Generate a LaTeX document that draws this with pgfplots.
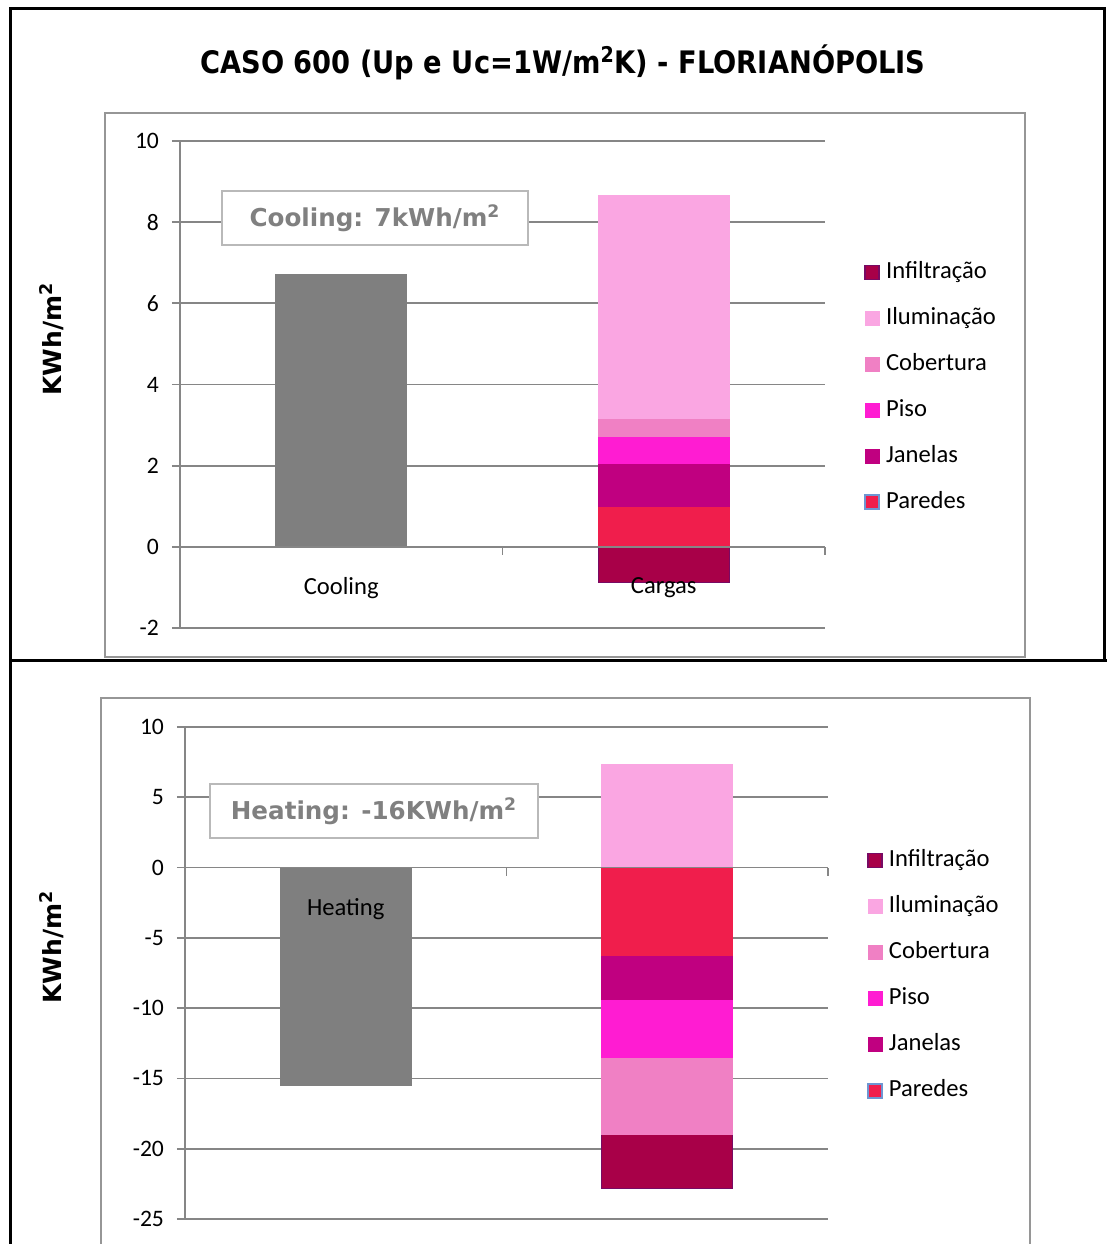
\documentclass[border=0pt]{standalone}
\usepackage{fontspec}
\setmainfont{Carlito}
\newfontfamily\vfont{DejaVu Sans}
\newfontfamily\tfont[FakeStretch=0.88]{DejaVu Sans}
\usepackage{pgfplots}
\pgfplotsset{compat=1.18}
\definecolor{cInf}{RGB}{168,0,72}
\definecolor{cInfB}{RGB}{120,10,100}
\definecolor{cIlu}{RGB}{250,166,226}
\definecolor{cCob}{RGB}{240,128,196}
\definecolor{cPis}{RGB}{255,28,210}
\definecolor{cJan}{RGB}{192,0,128}
\definecolor{cPar}{RGB}{240,30,76}
\definecolor{cParB}{RGB}{110,150,210}
\definecolor{cGray}{RGB}{127,127,127}
\definecolor{gridc}{RGB}{134,134,134}
\definecolor{framec}{RGB}{150,150,150}
\definecolor{boxc}{RGB}{185,185,185}
\definecolor{txtgray}{RGB}{128,128,128}
\newcommand{\sq}{\textsuperscript{2}}
\pgfplotsset{
  base/.style={scale only axis, anchor=south west, xmin=-0.5, xmax=1.5, enlargelimits=false},
  mainax/.style={base, axis x line=none, axis y line*=left, ytick align=outside,
    major tick length=4pt, ymajorgrids,
    major grid style={draw=gridc, line width=0.9pt},
    y axis line style={draw=gridc, line width=0.9pt},
    ytick style={draw=gridc, line width=0.9pt},
    yticklabel style={font=\fontsize{11.8}{12}\selectfont, xshift=-3pt},
    /pgf/number format/assume math mode=true,
    legend cell align=left,
    legend image code/.code={\draw[##1] (0pt,-3.5pt) rectangle (7pt,3.5pt);},
  },
  stackax/.style={base, ybar stacked, bar width=65.5pt, axis on top,
    axis x line*=middle, axis y line=none, ytick=\empty,
    xtick={0.5,1.5}, xticklabels={}, xtick align=outside, major tick length=4pt,
    x axis line style={draw=gridc, line width=0.9pt},
    xtick style={draw=gridc, line width=0.9pt},
  },
  lg/.style={legend style={at={(axis description cs:1.06,#1)}, anchor=north west, draw=none, fill=none,
    font=\fontsize{12.3}{14}\selectfont, inner sep=0pt, row sep=8pt,
    nodes={text height=9pt, text depth=3pt, inner sep=1.5pt},
    /tikz/every odd column/.append style={column sep=1.5pt}}},
  seg/.style={fill=#1, draw=#1, line width=0.3pt},
}
\begin{document}
\begin{tikzpicture}
\path[use as bounding box] (0,0) rectangle (553.5pt,-622pt);
\clip (0,0) rectangle (553.5pt,-622pt);
% outer frame
\draw[black, line width=1.5pt] (5pt,-700pt) -- (5pt,-4pt) -- (552pt,-4pt) -- (552pt,-330pt);
\draw[black, line width=1.5pt] (5pt,-330pt) -- (560pt,-330pt);
% inner chart frames
\draw[framec, line width=1pt] (52.5pt,-56.5pt) rectangle (512.5pt,-328.5pt);
\draw[framec, line width=1pt] (50.5pt,-349pt) rectangle (515pt,-700pt);
% title
\node[font=\tfont\bfseries\fontsize{15.5}{18}\selectfont] at (281.5pt,-31pt) {CASO 600 (Up e Uc=1W/m\sq K) - FLORIANÓPOLIS};

% ---------------- top chart ----------------
\begin{axis}[mainax, at={(90pt,-314pt)}, width=322.5pt, height=243.5pt,
  ymin=-2, ymax=10, ytick={-2,0,...,10}, lg=0.762]
  \addplot[ybar, bar width=65.5pt, bar shift=0pt, seg=cGray, forget plot] coordinates {(0,6.72)};
  \addplot[ybar, bar width=65.5pt, bar shift=0pt, fill=cInf, draw=cInfB, line width=0.7pt, forget plot] coordinates {(1,-0.88)};
  \addlegendimage{fill=cInf, draw=cInfB, line width=0.6pt}\addlegendentry{Infiltração}
  \addlegendimage{fill=cIlu, draw=cIlu}\addlegendentry{Iluminação}
  \addlegendimage{fill=cCob, draw=cCob}\addlegendentry{Cobertura}
  \addlegendimage{fill=cPis, draw=cPis}\addlegendentry{Piso}
  \addlegendimage{fill=cJan, draw=cJan}\addlegendentry{Janelas}
  \addlegendimage{fill=cPar, draw=cParB, line width=1pt}\addlegendentry{Paredes}
\end{axis}
\begin{axis}[stackax, at={(90pt,-314pt)}, width=322.5pt, height=243.5pt, ymin=-2, ymax=10]
  \addplot[seg=cPar] coordinates {(1,0.97)};
  \addplot[seg=cJan] coordinates {(1,1.07)};
  \addplot[seg=cPis] coordinates {(1,0.67)};
  \addplot[seg=cCob] coordinates {(1,0.43)};
  \addplot[seg=cIlu] coordinates {(1,5.53)};
  \node[font=\fontsize{12.3}{14}\selectfont] at (axis cs:0,0) [yshift=-20.5pt] {Cooling};
  \node[font=\fontsize{12.3}{14}\selectfont] at (axis cs:1,0) [yshift=-20.5pt] {Cargas};
\end{axis}
\node[draw=boxc, line width=1pt, fill=white, minimum width=153pt, minimum height=27pt,
  text=txtgray, font=\vfont\bfseries\fontsize{12.3}{14}\selectfont] at (187.5pt,-109pt) {Cooling: 7kWh/m\sq};
\node[rotate=90, font=\vfont\bfseries\fontsize{12.5}{14}\selectfont] at (26pt,-169.5pt) {KWh/m\sq};

% ---------------- bottom chart ----------------
\begin{axis}[mainax, at={(92.5pt,-609.5pt)}, width=321.5pt, height=246pt,
  ymin=-25, ymax=10, ytick={-25,-20,...,10}, lg=0.76]
  \addplot[ybar, bar width=65.5pt, bar shift=0pt, seg=cGray, forget plot] coordinates {(0,-15.48)};
  \addplot[ybar, bar width=65.5pt, bar shift=0pt, seg=cIlu, forget plot] coordinates {(1,7.37)};
  \addlegendimage{fill=cInf, draw=cInfB, line width=0.6pt}\addlegendentry{Infiltração}
  \addlegendimage{fill=cIlu, draw=cIlu}\addlegendentry{Iluminação}
  \addlegendimage{fill=cCob, draw=cCob}\addlegendentry{Cobertura}
  \addlegendimage{fill=cPis, draw=cPis}\addlegendentry{Piso}
  \addlegendimage{fill=cJan, draw=cJan}\addlegendentry{Janelas}
  \addlegendimage{fill=cPar, draw=cParB, line width=1pt}\addlegendentry{Paredes}
\end{axis}
\begin{axis}[stackax, at={(92.5pt,-609.5pt)}, width=321.5pt, height=246pt, ymin=-25, ymax=10]
  \addplot[seg=cPar] coordinates {(1,-6.25)};
  \addplot[seg=cJan] coordinates {(1,-3.13)};
  \addplot[seg=cPis] coordinates {(1,-4.09)};
  \addplot[seg=cCob] coordinates {(1,-5.49)};
  \addplot[fill=cInf, draw=cInfB, line width=0.7pt] coordinates {(1,-3.89)};
  \node[font=\fontsize{12.3}{14}\selectfont] at (axis cs:0,0) [yshift=-21pt] {Heating};
  \node[font=\fontsize{12.3}{14}\selectfont] at (axis cs:1,0) [yshift=-21pt] {Cargas};
\end{axis}
\node[draw=boxc, line width=1pt, fill=white, minimum width=164pt, minimum height=27pt,
  text=txtgray, font=\vfont\bfseries\fontsize{12.3}{14}\selectfont] at (187pt,-405.5pt) {Heating: -16KWh/m\sq};
\node[rotate=90, font=\vfont\bfseries\fontsize{12.5}{14}\selectfont] at (26pt,-473.5pt) {KWh/m\sq};
\end{tikzpicture}
\end{document}
